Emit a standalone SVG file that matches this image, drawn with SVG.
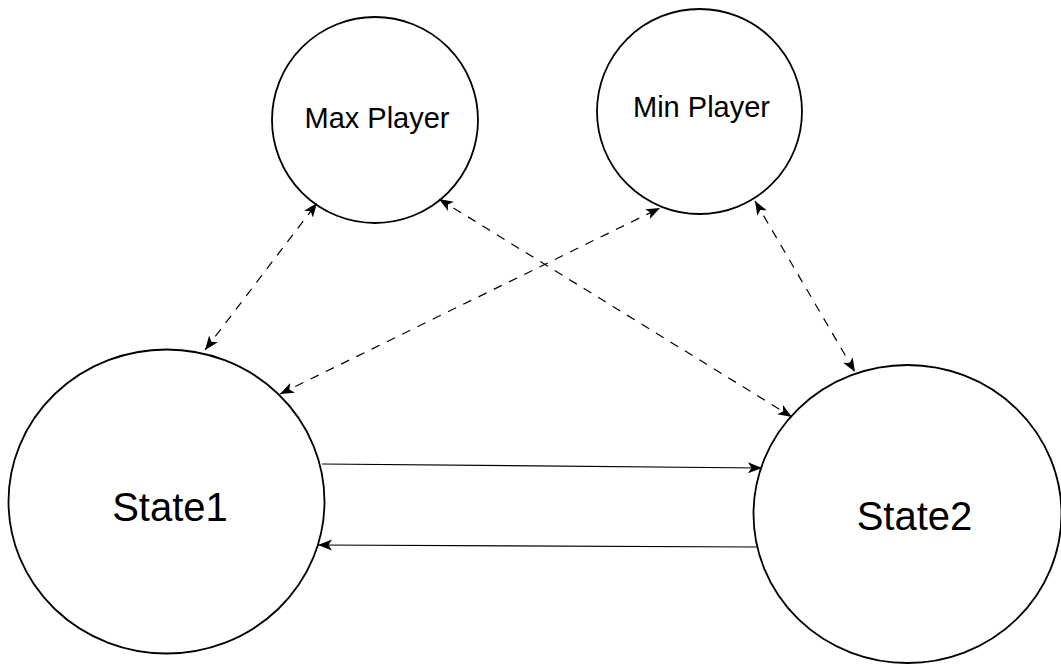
<svg xmlns="http://www.w3.org/2000/svg" width="1061" height="665" viewBox="0 0 1061 665">
<style>
.n{fill:#fff;stroke:#000;stroke-width:1.8}
.t{font-family:"Liberation Sans",Arial,sans-serif;fill:#000;text-anchor:middle}
.d{fill:none;stroke:#000;stroke-width:1.2;stroke-dasharray:9 8}
.s{fill:none;stroke:#000;stroke-width:1.2}
</style>
<defs>
<marker id="ah" markerUnits="userSpaceOnUse" markerWidth="16" markerHeight="13" refX="14" refY="6.5" orient="auto-start-reverse" viewBox="0 0 16 13">
<path d="M0,1 L14,6.5 L0,12 L3.5,6.5 Z" fill="#000"/>
</marker>
</defs>
<rect width="1061" height="665" fill="#fff"/>
<g id="state1">
<ellipse class="n" cx="166.5" cy="501.5" rx="158" ry="152"/>
<text class="t" x="170" y="521" font-size="40">State1</text>
</g>
<g id="state2">
<ellipse class="n" cx="907.5" cy="514" rx="154" ry="149"/>
<text class="t" x="914.5" y="529.5" font-size="40">State2</text>
</g>
<g id="maxplayer">
<circle class="n" cx="375" cy="120" r="103"/>
<text class="t" x="377" y="128" font-size="29">Max Player</text>
</g>
<g id="minplayer">
<circle class="n" cx="699.5" cy="111.5" r="102.5"/>
<text class="t" x="701.5" y="117" font-size="29">Min Player</text>
</g>
<g id="connectors">
<line class="d" x1="205" y1="350" x2="317" y2="203" marker-start="url(#ah)" marker-end="url(#ah)"/>
<line class="d" x1="280" y1="394" x2="660" y2="208" marker-start="url(#ah)" marker-end="url(#ah)"/>
<line class="d" x1="439" y1="199" x2="792" y2="417" marker-start="url(#ah)" marker-end="url(#ah)"/>
<line class="d" x1="755" y1="201" x2="855" y2="372" marker-start="url(#ah)" marker-end="url(#ah)"/>
<line class="s" x1="322" y1="464" x2="762" y2="468" marker-end="url(#ah)"/>
<line class="s" x1="757" y1="547" x2="318" y2="545" marker-end="url(#ah)"/>
</g>
</svg>
